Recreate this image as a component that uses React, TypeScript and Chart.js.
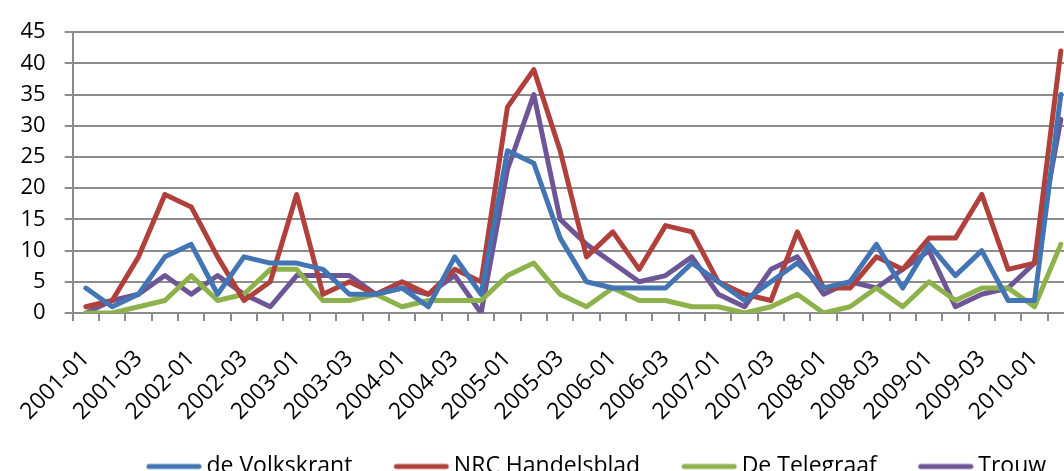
import React, { useEffect, useRef } from "react";
import { Chart, registerables } from "chart.js";

Chart.register(...registerables);

const categories = [
  "2001-01", "2001-02", "2001-03", "2001-04",
  "2002-01", "2002-02", "2002-03", "2002-04",
  "2003-01", "2003-02", "2003-03", "2003-04",
  "2004-01", "2004-02", "2004-03", "2004-04",
  "2005-01", "2005-02", "2005-03", "2005-04",
  "2006-01", "2006-02", "2006-03", "2006-04",
  "2007-01", "2007-02", "2007-03", "2007-04",
  "2008-01", "2008-02", "2008-03", "2008-04",
  "2009-01", "2009-02", "2009-03", "2009-04",
  "2010-01", "2010-02",
];

const volkskrant = [4, 1, 3, 9, 11, 3, 9, 8, 8, 7, 3, 3, 4, 1, 9, 3, 26, 24, 12, 5, 4, 4, 4, 8, 5, 2, 5, 8, 4, 5, 11, 4, 11, 6, 10, 2, 2, 35];
const nrcHandelsblad = [1, 2, 9, 19, 17, 9, 2, 5, 19, 3, 5, 3, 5, 3, 7, 5, 33, 39, 26, 9, 13, 7, 14, 13, 5, 3, 2, 13, 4, 4, 9, 7, 12, 12, 19, 7, 8, 42];
const telegraaf = [0, 0, 1, 2, 6, 2, 3, 7, 7, 2, 2, 3, 1, 2, 2, 2, 6, 8, 3, 1, 4, 2, 2, 1, 1, 0, 1, 3, 0, 1, 4, 1, 5, 2, 4, 4, 1, 11];
const trouw = [0, 2, 3, 6, 3, 6, 3, 1, 6, 6, 6, 3, 4, 3, 6, 0, 23, 35, 15, 11, 8, 5, 6, 9, 3, 1, 7, 9, 3, 5, 4, 7, 10, 1, 3, 4, 8, 31];

const seriesNames = ["de Volkskrant", "NRC Handelsblad", "De Telegraaf", "Trouw"];
const seriesColors = ["#4374B3", "#B0403C", "#8DB24C", "#6E5596"];

const FONT = "'Open Sans', 'Noto Sans', sans-serif";
const GRID = "#8c8c8c";

// Legend swatch: a short thick line, placed inside a wider transparent image
function legendLine(color: string): HTMLCanvasElement {
  const c = document.createElement("canvas");
  c.width = 82;
  c.height = 10;
  const ctx = c.getContext("2d")!;
  ctx.strokeStyle = color;
  ctx.lineWidth = 5;
  ctx.lineCap = "round";
  ctx.beginPath();
  ctx.moveTo(29, 5);
  ctx.lineTo(79, 5);
  ctx.stroke();
  return c;
}

export default function App() {
  const ref = useRef<HTMLCanvasElement>(null);

  useEffect(() => {
    document.body.style.margin = "0";
    document.body.style.overflow = "hidden";
    const canvas = ref.current!;
    const values = [volkskrant, nrcHandelsblad, telegraaf, trouw];
    const chart = new Chart(canvas, {
      type: "line",
      data: {
        labels: categories,
        datasets: values.map((v, i) => ({
          label: seriesNames[i],
          data: v,
          borderColor: seriesColors[i],
          backgroundColor: seriesColors[i],
          borderWidth: 5,
          borderCapStyle: "round" as const,
          borderJoinStyle: "round" as const,
          pointRadius: 0,
          pointHoverRadius: 0,
          pointStyle: legendLine(seriesColors[i]),
          tension: 0,
          fill: false,
          yAxisID: "y",
        })),
      },
      options: {
        responsive: false,
        animation: false,
        events: [],
        layout: { padding: { top: 23, left: 0, right: 0, bottom: 0 } },
        scales: {
          x: {
            type: "category",
            offset: true,
            grid: {
              offset: true,
              drawOnChartArea: false,
              drawTicks: true,
              tickLength: 8,
              color: GRID,
              lineWidth: 2,
            },
            border: { display: true, color: GRID, width: 2 },
            ticks: {
              autoSkip: false,
              maxRotation: 45,
              minRotation: 45,
              padding: 24,
              color: "#000",
              font: { family: FONT, size: 23 },
              callback: (_v: any, idx: number) => (idx % 2 === 0 ? categories[idx] : ""),
            },
            afterFit: (s: any) => {
              s.height = 120;
            },
          },
          y: {
            type: "linear",
            position: "left",
            min: 0,
            max: 45,
            ticks: {
              stepSize: 5,
              padding: 19,
              color: "#000",
              font: { family: FONT, size: 22 },
            },
            grid: { color: GRID, lineWidth: 2, tickLength: 8, drawTicks: true },
            border: { display: true, color: GRID, width: 2 },
            afterFit: (s: any) => {
              s.width = 62;
            },
          },
          spacer: {
            type: "linear",
            position: "right",
            display: true,
            grid: { display: false, drawTicks: false },
            border: { display: false },
            ticks: { display: false },
            afterFit: (s: any) => {
              s.width = 99;
            },
          },
        },
        plugins: {
          legend: {
            display: true,
            position: "bottom",
            labels: {
              usePointStyle: true,
              pointStyleWidth: 68,
              padding: 22,
              color: "#000",
              font: { family: FONT, size: 23 },
            },
          },
          tooltip: { enabled: false },
          title: { display: false },
        },
      },
    });
    return () => chart.destroy();
  }, []);

  return (
    <div style={{ width: 1064, height: 471, overflow: "hidden", position: "relative", background: "#fff" }}>
      <canvas ref={ref} width={1173} height={488} style={{ display: "block", width: 1173, height: 488 }} />
    </div>
  );
}
